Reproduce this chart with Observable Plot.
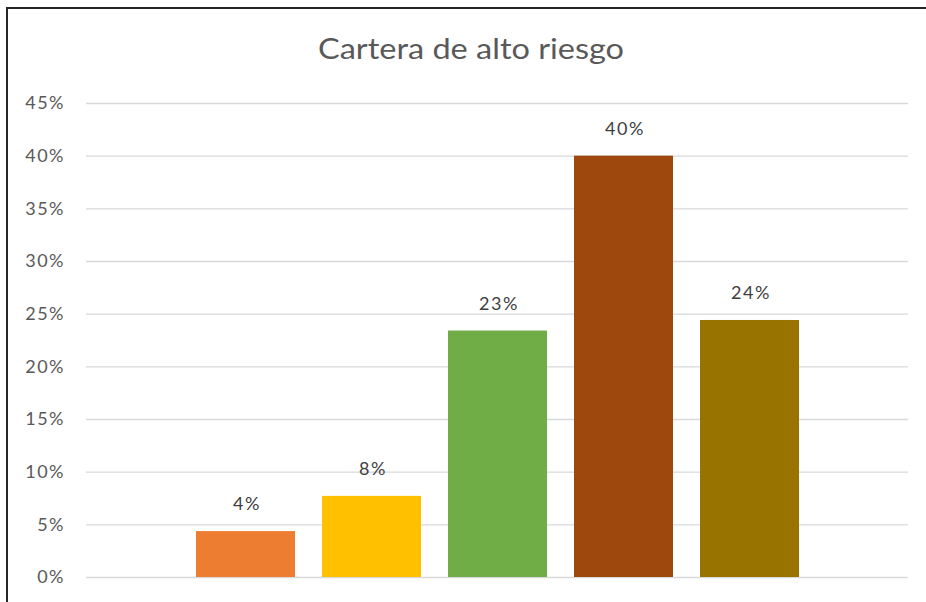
<!DOCTYPE html>
<html>
<head>
<meta charset="utf-8">
<script src="https://cdn.jsdelivr.net/npm/d3@7"></script>
<script src="https://cdn.jsdelivr.net/npm/@observablehq/plot@0.6"></script>
<style>
  html, body { margin: 0; padding: 0; background: #fff; }
  #wrap { position: relative; width: 926px; height: 602px; overflow: hidden; background: #fff; }
  #frame { position: absolute; left: 6px; top: 7px; width: 1000px; height: 1000px; border: 2px solid #262626; box-sizing: border-box; }
  #title { position: absolute; left: 471px; top: 33px; transform: translateX(-50%) scaleX(1.12); white-space: nowrap;
           font-family: Lato, "Open Sans", sans-serif; font-weight: 400; font-size: 29px; color: #595959; line-height: 1; }
  #chart { position: absolute; left: 0; top: 0; }
</style>
</head>
<body>
<div id="wrap">
  <div id="frame"></div>
  <div id="chart"></div>
  <div id="title">Cartera de alto riesgo</div>
</div>
<script>
const series = ["Serie 1", "Serie 2", "Serie 3", "Serie 4", "Serie 5"];
const values = [0.0436, 0.077, 0.234, 0.400, 0.244];
const labels = ["4%", "8%", "23%", "40%", "24%"];
const colors = ["#ED7D31", "#FFC000", "#70AD47", "#9E480E", "#997300"];
const yTicks = [0, 0.05, 0.10, 0.15, 0.20, 0.25, 0.30, 0.35, 0.40, 0.45];

const data = series.map((s, i) => ({series: s, value: values[i], label: labels[i], color: colors[i]}));

const chart = Plot.plot({
  width: 926,
  height: 602,
  marginLeft: 86,
  marginRight: 18,
  marginTop: 103,
  marginBottom: 25,
  style: {fontFamily: "Lato, 'Open Sans', sans-serif", fontSize: "18px", background: "transparent", letterSpacing: "1.5px"},
  x: {domain: series, paddingInner: 0.217, paddingOuter: 0.865, axis: null},
  y: {domain: [0, 0.45], axis: null},
  marks: [
    Plot.ruleY(yTicks, {stroke: "#d9d9d9", strokeWidth: 1.3}),
    Plot.axisY({ticks: yTicks, tickFormat: d3.format(".0%"), tickSize: 0, tickPadding: 21.5, color: "#595959", fontSize: 18, label: null}),
    Plot.barY(data, {x: "series", y: "value", fill: d => d.color}),
    Plot.text(data, {x: "series", y: "value", text: "label", dy: -27, dx: 1, lineAnchor: "middle", fill: "#404040", fontSize: 18})
  ]
});
document.getElementById("chart").appendChild(chart);
</script>
</body>
</html>
